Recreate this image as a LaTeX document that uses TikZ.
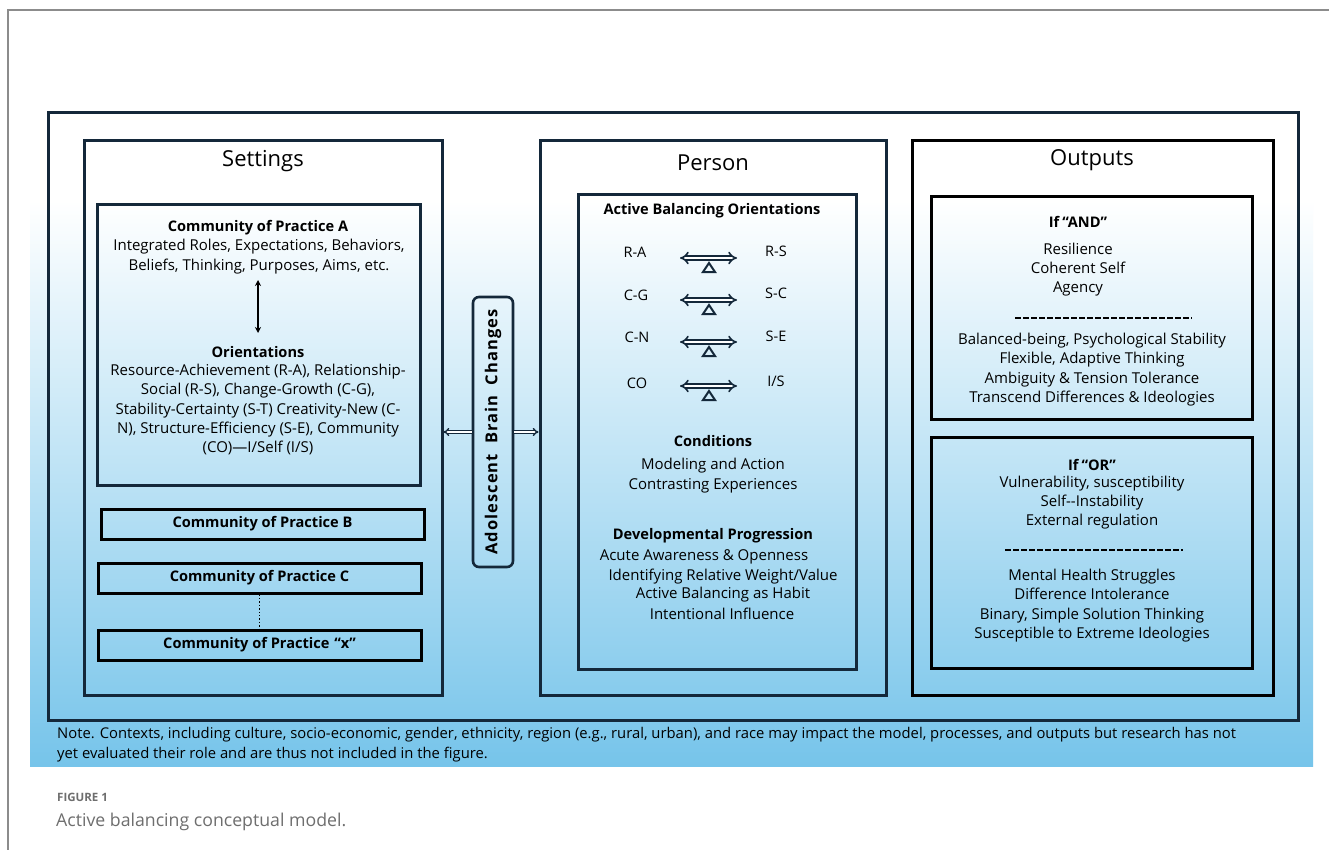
\documentclass[tikz,border=0pt]{standalone}
\usepackage{fontspec}
\setmainfont{Open Sans}
\newfontfamily\capfont{Open Sans}
\usetikzlibrary{arrows.meta}
\definecolor{navy}{RGB}{20,40,58}
\definecolor{skyb}{RGB}{118,196,234}
\definecolor{pagegray}{RGB}{140,140,140}
\definecolor{capgray}{RGB}{110,110,110}
\tikzset{
  box/.style={draw=#1, line width=3pt, rectangle, inner sep=0pt},
  box/.default=black,
  ttl/.style={font=\fontsize{22}{24}\selectfont, inner sep=0pt},
  hd/.style={font=\bfseries\fontsize{14.6}{19}\selectfont, inner sep=0pt, align=center},
  txt/.style={font=\fontsize{15}{19.3}\selectfont, inner sep=0pt, align=center},
  lbl/.style={font=\fontsize{14.5}{16}\selectfont, inner sep=0pt},
  seesaw/.style={draw=navy, double=white, double distance=2.6pt, line width=1.6pt, {Implies[length=5pt]}-{Implies[length=5pt]}},
  fulcrum/.style={draw=navy, line width=2pt, line join=miter},
  brainarr/.style={draw=navy, double=white, double distance=1.2pt, line width=1.4pt, -{Implies}},
  dsh/.style={draw=black, line width=1.5pt, dash pattern=on 5.5pt off 2.5pt},
}
\begin{document}
\begin{tikzpicture}[x=1pt,y=-1pt]
\useasboundingbox (0,0) rectangle (1329,850);
\fill[white] (0,0) rectangle (1329,850);
% page edge
\draw[pagegray, line width=1.2pt] (8,850) -- (8,10) -- (1329,10);
% figure background
\fill[white] (30,100) rectangle (1313,200);
\shade[top color=white, bottom color=skyb] (30,200) rectangle (1313,766);
% outer frame
\node[box=navy, line width=3pt, minimum width=1250pt, minimum height=607pt] (outer) at (673,416.5) {};
% three columns
\node[box=navy, minimum width=358pt, minimum height=554pt] (settings) at (263,418) {};
\node[box=navy, minimum width=346pt, minimum height=554pt] (person) at (713,418) {};
\node[box=black, minimum width=361pt, minimum height=554pt] (outputs) at (1092.5,418) {};
\node[ttl] (tSet) at (263,161) {Settings};
\node[ttl] (tPer) at (713,163) {Person};
\node[ttl] (tOut) at (1092,160) {Outputs};
% Settings column
\node[box=navy, minimum width=323pt, minimum height=280pt] (commA) at (258.5,345) {};
\node[hd] (commAh) at (258,228) {Community of Practice A};
\node[txt] (commAb) at (259,256.5) {Integrated Roles, Expectations, Behaviors,\\[1pt]Beliefs, Thinking, Purposes, Aims, etc.};
\coordinate (aTop) at (258,280);
\coordinate (aBot) at (258,333);
\draw[black, line width=1.5pt, {Stealth[length=6pt,width=6pt]}-{Stealth[length=6pt,width=6pt]}] (aTop) -- (aBot);
\node[hd] (orih) at (258,352) {Orientations};
\node[txt] (orib) at (258,409.5) {Resource-Achievement (R-A), Relationship-\\Social (R-S), Change-Growth (C-G),\\Stability-Certainty (S-T) Creativity-New (C-\\N), Structure-Efficiency (S-E), Community\\(CO)---I/Self (I/S)};
\node[box, minimum width=323pt, minimum height=30pt, font=\bfseries\fontsize{14.6}{16}\selectfont] (commB) at (262.5,524) {Community of Practice B};
\node[box, minimum width=323pt, minimum height=30pt, font=\bfseries\fontsize{14.6}{16}\selectfont] (commC) at (259.5,578) {Community of Practice C};
\node[box, minimum width=323pt, minimum height=30pt, font=\bfseries\fontsize{14.6}{16}\selectfont] (commX) at (259.5,645) {Community of Practice \kern1pt``x''};
\draw[black, line width=1.4pt, dotted] (commC.south) -- (commX.north);
% Brain changes
\node[draw=navy, line width=2.6pt, rounded corners=6pt, minimum width=40pt, minimum height=270pt, inner sep=0pt] (brain) at (493,432) {};
\node[rotate=90, font=\bfseries\fontsize{16.5}{18}\selectfont\addfontfeature{LetterSpace=6}, inner sep=0pt] (brainT) at (brain.center) {Adolescent\ \ Brain\ \ Changes};
\draw[brainarr] (brain.west) -- (brain.west -| settings.east);
\draw[brainarr] (brain.east) -- (brain.east -| person.west);
% Person column
\node[box=navy, minimum width=278pt, minimum height=474pt] (personIn) at (717,432) {};
\node[hd] (abo) at (712,211) {Active Balancing Orientations};
\node[lbl] (ra) at (635,252) {R-A};
\node[lbl] (rs) at (776,251) {R-S};
\node[lbl] (cg) at (636,295) {C-G};
\node[lbl] (sc) at (776,293) {S-C};
\node[lbl] (cn) at (637,337) {C-N};
\node[lbl] (se) at (776,336) {S-E};
\node[lbl] (co) at (637,383) {CO};
\node[lbl] (is) at (776,381) {I/S};
\foreach \yy/\nm in {258/one,300/two,342/three,386/four}{
  \coordinate (sl\nm) at (680,\yy);
  \coordinate (sr\nm) at (737,\yy);
  \draw[seesaw] (sl\nm) -- (sr\nm);
  \draw[fulcrum] (709,\yy+5) -- (715,\yy+14) -- (703,\yy+14) -- cycle;
}
\node[hd] (condh) at (713,441) {Conditions};
\node[txt] (condb) at (713,475.5) {Modeling and Action\\Contrasting Experiences};
\node[hd] (devh) at (713,536) {Developmental Progression};
\node[txt] (dev1) at (704,557) {Acute Awareness \& Openness};
\node[txt] (dev2) at (723,577) {Identifying Relative Weight/Value};
\node[txt] (dev3) at (723,595) {Active Balancing as Habit};
\node[txt] (dev4) at (722,614) {Intentional Influence};
% Outputs column
\node[box, minimum width=321pt, minimum height=222pt] (andBox) at (1091.5,308) {};
\node[hd] (andh) at (1078,222) {If\kern3pt``AND''};
\node[txt] (andb1) at (1078,269.5) {Resilience\\Coherent Self\\Agency};
\coordinate (ad1) at (1015,318);
\coordinate (ad2) at (1192,318);
\draw[dsh] (ad1) -- (ad2);
\node[txt] (andb2) at (1092,369.5) {Balanced-being, Psychological Stability\\Flexible, Adaptive Thinking\\Ambiguity \& Tension Tolerance\\Transcend Differences \& Ideologies};
\node[box, minimum width=321pt, minimum height=231pt] (orBox) at (1091.5,552.5) {};
\node[hd] (orh) at (1092,465) {If\kern3pt``OR''};
\node[txt] (orb1) at (1092,502.5) {Vulnerability, susceptibility\\Self-{}-Instability\\External regulation};
\coordinate (od1) at (1005,550);
\coordinate (od2) at (1183,550);
\draw[dsh] (od1) -- (od2);
\node[txt] (orb2) at (1092,605.5) {Mental Health Struggles\\Difference Intolerance\\Binary, Simple Solution Thinking\\Susceptible to Extreme Ideologies};
% note
\node[anchor=west, align=left, inner sep=0pt, font=\fontsize{14.8}{19.5}\selectfont] (note) at (57,744.5) {Note. Contexts, including culture, socio-economic, gender, ethnicity, region (e.g., rural, urban), and race may impact the model, processes, and outputs but research has not\\yet evaluated their role and are thus not included in the figure.};
% caption
\node[anchor=west, inner sep=0pt, text=capgray, font=\capfont\bfseries\fontsize{11.5}{13}\selectfont] (fig) at (57,797) {FIGURE 1};
\node[anchor=west, inner sep=0pt, text=capgray, font=\capfont\fontsize{17.7}{20}\selectfont] (cap) at (56,822) {Active balancing conceptual model.};
\end{tikzpicture}
\end{document}
